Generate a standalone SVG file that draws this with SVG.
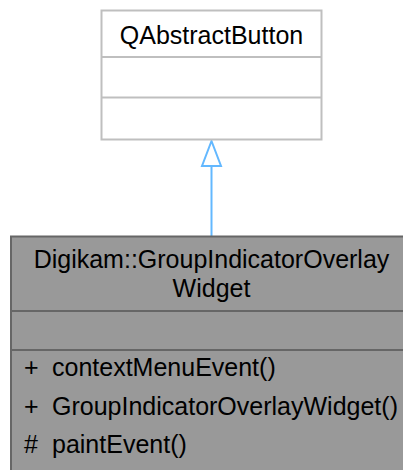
<svg xmlns="http://www.w3.org/2000/svg" width="403" height="470" viewBox="0 0 403 470">
<style>
text { font-family: "Liberation Sans", Arial, sans-serif; font-size: 25px; fill: #000000; }
.mid { text-anchor: middle; }
.base { fill: #ffffff; stroke: #bfbfbf; stroke-width: 2; }
.baseline { stroke: #bfbfbf; stroke-width: 2; }
.cls { fill: #999999; stroke: #666666; stroke-width: 2; }
.clsline { stroke: #666666; stroke-width: 2; }
.edge { stroke: #63b8ff; stroke-width: 2; fill: none; }
.head { fill: #ffffff; stroke: #63b8ff; stroke-width: 2; }
</style>
<g id="connectors">
<line class="edge" x1="211.5" y1="236" x2="211.5" y2="166"/>
<polygon class="head" points="211.5,141 202,166 221,166"/>
</g>
<g id="node_QAbstractButton">
<rect class="base" x="101.5" y="10.5" width="220" height="129"/>
<line class="baseline" x1="101.5" y1="57" x2="321.5" y2="57"/>
<line class="baseline" x1="101.5" y1="97.5" x2="321.5" y2="97.5"/>
<text class="mid" x="211.5" y="44">QAbstractButton</text>
</g>
<g id="node_GroupIndicatorOverlayWidget">
<rect class="cls" x="11" y="236.5" width="401" height="240"/>
<line class="clsline" x1="11" y1="311" x2="412" y2="311"/>
<line class="clsline" x1="11" y1="350" x2="412" y2="350"/>
<text class="mid" x="211.5" y="268">Digikam::GroupIndicatorOverlay</text>
<text class="mid" x="211.5" y="297">Widget</text>
<text x="24" y="376">+</text>
<text x="52" y="376">contextMenuEvent()</text>
<text x="24" y="415">+</text>
<text x="52" y="415">GroupIndicatorOverlayWidget()</text>
<text x="24" y="453">#</text>
<text x="52" y="453">paintEvent()</text>
</g>
</svg>
